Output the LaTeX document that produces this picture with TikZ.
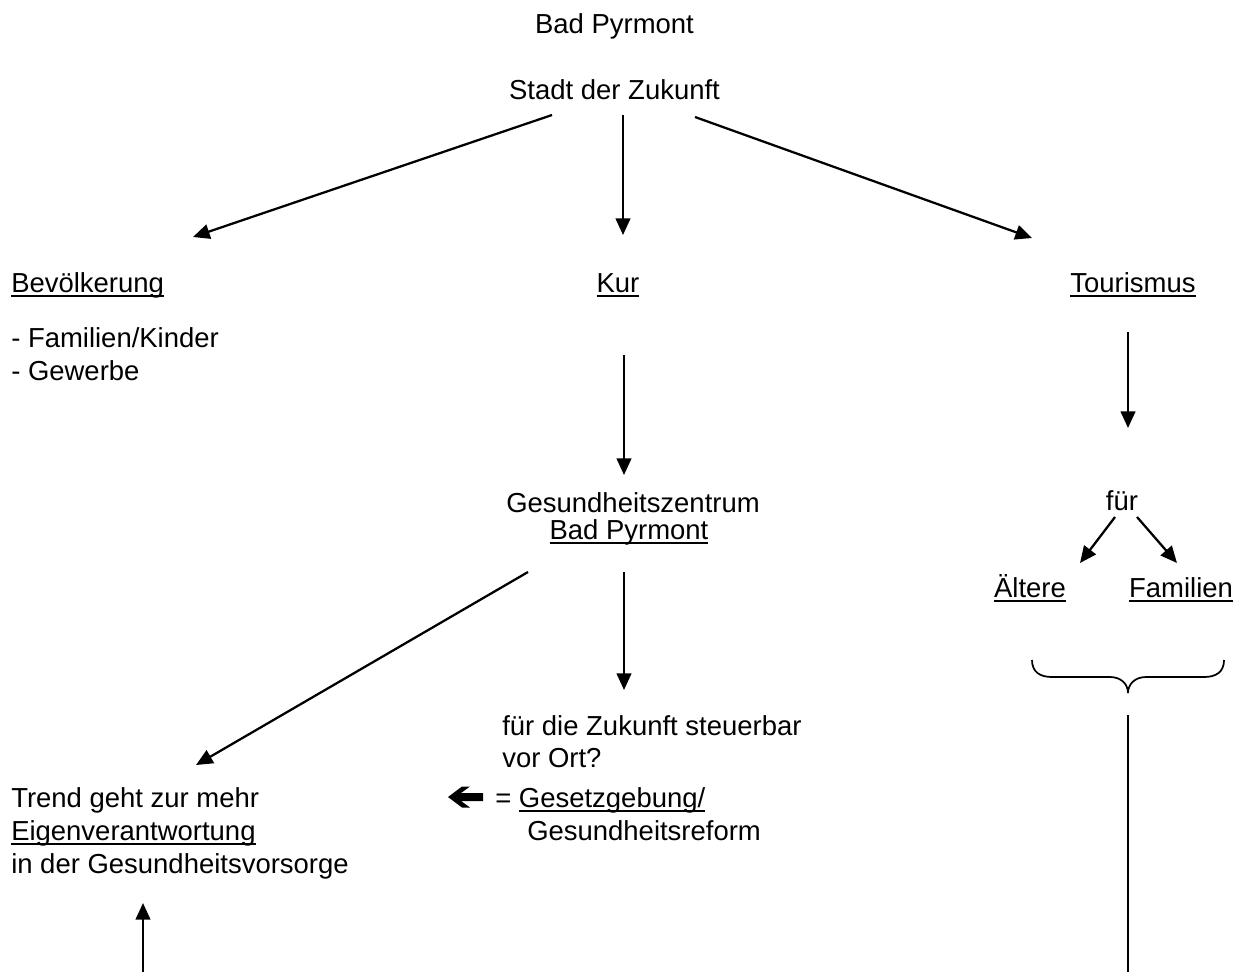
\documentclass[tikz,border=0pt]{standalone}
\usepackage{fontspec}
\setmainfont{Liberation Sans}
\usetikzlibrary{arrows.meta}
\newcommand{\ulx}[1]{\setbox0\hbox{#1}\rlap{\rule[-0.17em]{\wd0}{0.075em}}\box0}
\tikzset{
  txt/.style={inner sep=0pt, font=\fontsize{20.6}{24}\selectfont},
  lt/.style={txt, anchor=base west},
  ct/.style={txt, anchor=base},
  arr/.style={line width=1.7pt, -{Triangle[length=12.5pt,width=11pt]}},
  plain/.style={line width=1.7pt},
  brace/.style={line width=1.3pt},
}
\begin{document}
\begin{tikzpicture}[x=0.75pt,y=-0.75pt]
\useasboundingbox (0,0) rectangle (1244,972);
% texts
\node[ct] (t1) at (614.5,33) {Bad Pyrmont};
\node[ct] (t2) at (614.5,99) {Stadt der Zukunft};
\node[lt] (bev) at (11,292) {\ulx{Bevölkerung}};
\node[ct] (kur) at (618,292) {\ulx{Kur}};
\node[ct] (tour) at (1133,292) {\ulx{Tourismus}};
\node[lt] (fam) at (11,347) {- Familien/Kinder};
\node[lt] (gew) at (11,380) {- Gewerbe};
\node[ct] (gz1) at (633,512) {Gesundheitszentrum};
\node[ct] (gz2) at (629,539) {\ulx{Bad Pyrmont}};
\node[ct] (fuer) at (1122,510) {für};
\node[ct] (aelt) at (1030,597) {\ulx{Ältere}};
\node[ct] (famt) at (1181,597) {\ulx{Familien}};
\node[lt] (zuk1) at (502,735) {für die Zukunft steuerbar};
\node[lt] (zuk2) at (502,767) {vor Ort?};
\node[lt] (ges) at (495,807) {= \ulx{Gesetzgebung/}};
\node[lt] (gr) at (527,840) {Gesundheitsreform};
\node[lt] (trend) at (11,807) {Trend geht zur mehr};
\node[lt] (eigen) at (11,840) {\ulx{Eigenverantwortung}};
\node[lt] (inder) at (11,873) {in der Gesundheitsvorsorge};
% thick left arrow
\fill (448,797) -- (462,786.5) -- (470,786.5) -- (461,793) -- (483,793) -- (483,801) -- (461,801) -- (470,807.5) -- (462,807.5) -- cycle;
% connector end points
\coordinate (s1a) at (552,115); \coordinate (s1b) at (193,237);
\coordinate (s2a) at (623,115); \coordinate (s2b) at (623,235);
\coordinate (s3a) at (695,117); \coordinate (s3b) at (1032,238);
\coordinate (ka) at (624,355); \coordinate (kb) at (624,475);
\coordinate (ta) at (1128,332); \coordinate (tb) at (1128,428);
\coordinate (f1a) at (1115,517); \coordinate (f1b) at (1080,563);
\coordinate (f2a) at (1137,517); \coordinate (f2b) at (1177,563);
\coordinate (g1a) at (528,572); \coordinate (g1b) at (196,765);
\coordinate (g2a) at (624,572); \coordinate (g2b) at (624,690);
\coordinate (upa) at (143,972); \coordinate (upb) at (143,903);
\coordinate (la) at (1128,715); \coordinate (lb) at (1128,972);
\draw[arr] (s1a) -- (s1b);
\draw[arr] (s2a) -- (s2b);
\draw[arr] (s3a) -- (s3b);
\draw[arr] (ka) -- (kb);
\draw[arr] (ta) -- (tb);
\draw[arr] (f1a) -- (f1b);
\draw[arr] (f2a) -- (f2b);
\draw[arr] (g1a) -- (g1b);
\draw[arr] (g2a) -- (g2b);
\draw[arr] (upa) -- (upb);
\draw[plain] (la) -- (lb);
% brace
\draw[brace] (1032,660) .. controls (1032,672) and (1040,677) .. (1052,677) -- (1110,677) .. controls (1121,677) and (1128,684) .. (1128,693) .. controls (1128,684) and (1135,677) .. (1146,677) -- (1204,677) .. controls (1216,677) and (1224,672) .. (1224,660);
\end{tikzpicture}
\end{document}
